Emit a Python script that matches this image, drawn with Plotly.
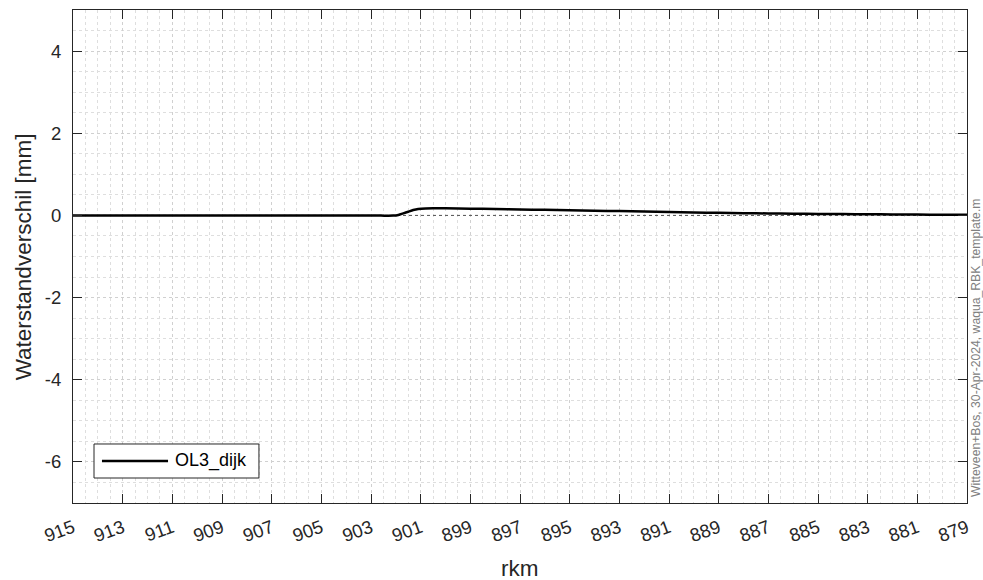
import plotly.graph_objects as go

rkm = [915, 912, 909, 906, 904, 903.2, 903.0, 902.6, 902.3, 902.1, 901.9, 901.7, 901.5, 901.3, 901.1, 900.8, 900.5,
       900, 899, 898, 897, 896, 895, 894, 893, 892, 891, 890, 889, 888, 887, 886, 885, 884, 883, 882, 881, 880, 879]
vals = [0, 0, 0, 0, 0, -0.003, -0.005, -0.005, -0.008, -0.005, 0.012, 0.05, 0.09, 0.13, 0.155, 0.17, 0.175,
        0.175, 0.165, 0.155, 0.145, 0.135, 0.125, 0.115, 0.105, 0.095, 0.085, 0.072, 0.062, 0.055, 0.048, 0.042,
        0.036, 0.032, 0.028, 0.024, 0.02, 0.018, 0.015]
series_name = "OL3_dijk"
xticks = list(range(915, 878, -2))
yticks = [-6, -4, -2, 0, 2, 4]
stamp = "Witteveen+Bos, 30-Apr-2024, waqua_RBK_template.m"

font = "Liberation Sans, Arial, sans-serif"
axcol = "#262626"

fig = go.Figure()
fig.add_trace(go.Scatter(x=[915, 879], y=[0, 0], mode="lines",
                         line=dict(color="#555555", width=1, dash="dot"),
                         showlegend=False, hoverinfo="skip"))
fig.add_trace(go.Scatter(x=rkm, y=vals, mode="lines", name=series_name, showlegend=False,
                         line=dict(color="#000000", width=2.5, shape="spline", smoothing=0.6)))

common = dict(ticks="inside", ticklen=9, tickcolor=axcol, mirror="ticks",
              showline=True, linecolor=axcol, linewidth=1, automargin=False,
              showgrid=True, gridcolor="#d0d0d0", gridwidth=1, griddash="dot", zeroline=False,
              minor=dict(dtick=0.5, showgrid=True, gridcolor="#dedede", griddash="dot", ticks=""),
              tickfont=dict(size=18.5, color=axcol, family=font), ticklabeloverflow="allow")
fig.update_xaxes(range=[915, 879], tickvals=xticks, ticktext=[str(t) for t in xticks],
                 tickangle=-20, ticklabelstandoff=6, **common)
fig.update_yaxes(range=[-7, 5], tickvals=yticks, ticktext=[str(t) for t in yticks],
                 ticklabelstandoff=7, **common)

# axis titles
fig.add_annotation(text="rkm", xref="paper", yref="paper", x=0.5, y=-0.132, xanchor="center", yanchor="middle",
                   showarrow=False, font=dict(size=22.5, color=axcol, family=font))
fig.add_annotation(text="Waterstandverschil [mm]", xref="paper", yref="paper", x=-0.055, y=0.5,
                   xanchor="center", yanchor="middle", textangle=-90, showarrow=False,
                   font=dict(size=22.5, color=axcol, family=font))
# stamp
fig.add_annotation(text=stamp, xref="paper", yref="paper", x=1.0, y=0.0, xanchor="left", yanchor="bottom",
                   textangle=-90, showarrow=False, xshift=0, yshift=4,
                   font=dict(size=12.2, color="#808080", family=font))

# legend (drawn box)
fig.add_shape(type="rect", xref="paper", yref="paper", x0=0.0235, x1=0.208, y0=0.0507, y1=0.1197,
              line=dict(color=axcol, width=1), fillcolor="white", layer="above")
fig.add_shape(type="line", xref="paper", yref="paper", x0=0.0324, x1=0.1063, y0=0.0852, y1=0.0852,
              line=dict(color="#000000", width=2.5), layer="above")
fig.add_annotation(text=series_name, xref="paper", yref="paper", x=0.1119, y=0.0852, xanchor="left",
                   yanchor="middle", showarrow=False, font=dict(size=18, color="#000000", family=font))

fig.update_layout(width=983, height=580, margin=dict(l=73, r=16, t=10, b=77),
                  plot_bgcolor="white", paper_bgcolor="white", showlegend=False)
fig.write_html("out.html", config={"displayModeBar": False},
               post_script="document.body.style.margin='0px';document.body.style.overflow='hidden';")
